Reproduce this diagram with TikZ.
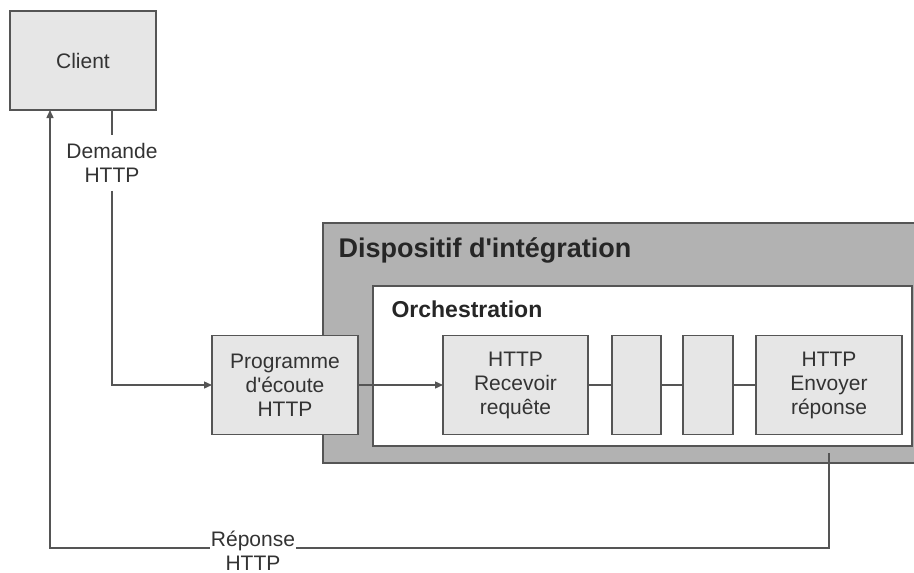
\documentclass[tikz,border=0pt]{standalone}
\usepackage{fontspec}
\setmainfont{Liberation Sans}
\usetikzlibrary{arrows.meta, positioning, calc}
\definecolor{boxgray}{HTML}{E6E6E6}
\definecolor{bandgray}{HTML}{B2B2B2}
\definecolor{linegray}{HTML}{555555}
\definecolor{textgray}{HTML}{333333}

\begin{document}
\begin{tikzpicture}[x=1pt, y=-1pt,
  boite/.style={draw=linegray, line width=1.6pt, fill=boxgray, outer sep=0pt,
    inner sep=2pt, align=center, text=textgray, font=\fontsize{21}{24}\selectfont},
  conteneur/.style={draw=linegray, line width=1.6pt, outer sep=0pt, anchor=north west},
  etiquette/.style={align=center, text=textgray, font=\fontsize{21}{24}\selectfont},
  fleche/.style={line width=1.4pt, draw=linegray},
  pointe/.style={-{Triangle[length=8pt, width=7pt]}}
]
  \useasboundingbox (0,0) rectangle (914,573);

  % Client
  \node[boite, minimum width=146, minimum height=99] (client) at (83,60.5) {Client};

  % Containers
  \node[conteneur, fill=bandgray, minimum width=610, minimum height=240]
    (dispositif) at (323,223) {};
  \node[font=\fontsize{27}{31}\selectfont\bfseries, text=black!85, anchor=base west]
    (titredispositif) at (335,257) {Dispositif d\textquotesingle intégration};
  \node[conteneur, fill=white, minimum width=539, minimum height=160]
    (orch) at (373,286) {};
  \node[font=\fontsize{23}{27}\selectfont\bfseries, text=black!85, anchor=base west]
    (titreorch) at (388,317) {Orchestration};

  % Steps
  \node[boite, minimum width=146, minimum height=99] (ecoute) at (285,385)
    {Programme\\d\textquotesingle écoute\\HTTP};
  \node[boite, minimum width=145, minimum height=99] (recevoir) at (515.5,385)
    {HTTP\\Recevoir\\requête};
  \node[boite, minimum width=49, minimum height=99] (etape1) at (636.5,385) {};
  \node[boite, minimum width=50, minimum height=99] (etape2) at (708,385) {};
  \node[boite, minimum width=146, minimum height=99] (envoyer) at (829,385)
    {HTTP\\Envoyer\\réponse};

  % Request
  \node[etiquette, inner xsep=2pt, inner ysep=8pt] (demande) at (112,163)
    {Demande\\HTTP};
  \draw[fleche] ([xshift=29pt]client.south) -- (demande);
  \draw[fleche, pointe] (demande) |- (ecoute.west);
  \draw[fleche, pointe] (ecoute.east) -- (recevoir.west);
  \draw[fleche] (recevoir) -- (etape1) -- (etape2) -- (envoyer);

  % Response
  \coordinate (depart) at ([yshift=-7pt]orch.south -| envoyer.south);
  \draw[fleche, pointe] (depart) -- ++(0,95)
    -| ([xshift=40pt]client.south west);
  \node[etiquette, fill=white, inner sep=1pt, anchor=north] (reponse) at (253,530)
    {Réponse\\HTTP};
\end{tikzpicture}
\end{document}
